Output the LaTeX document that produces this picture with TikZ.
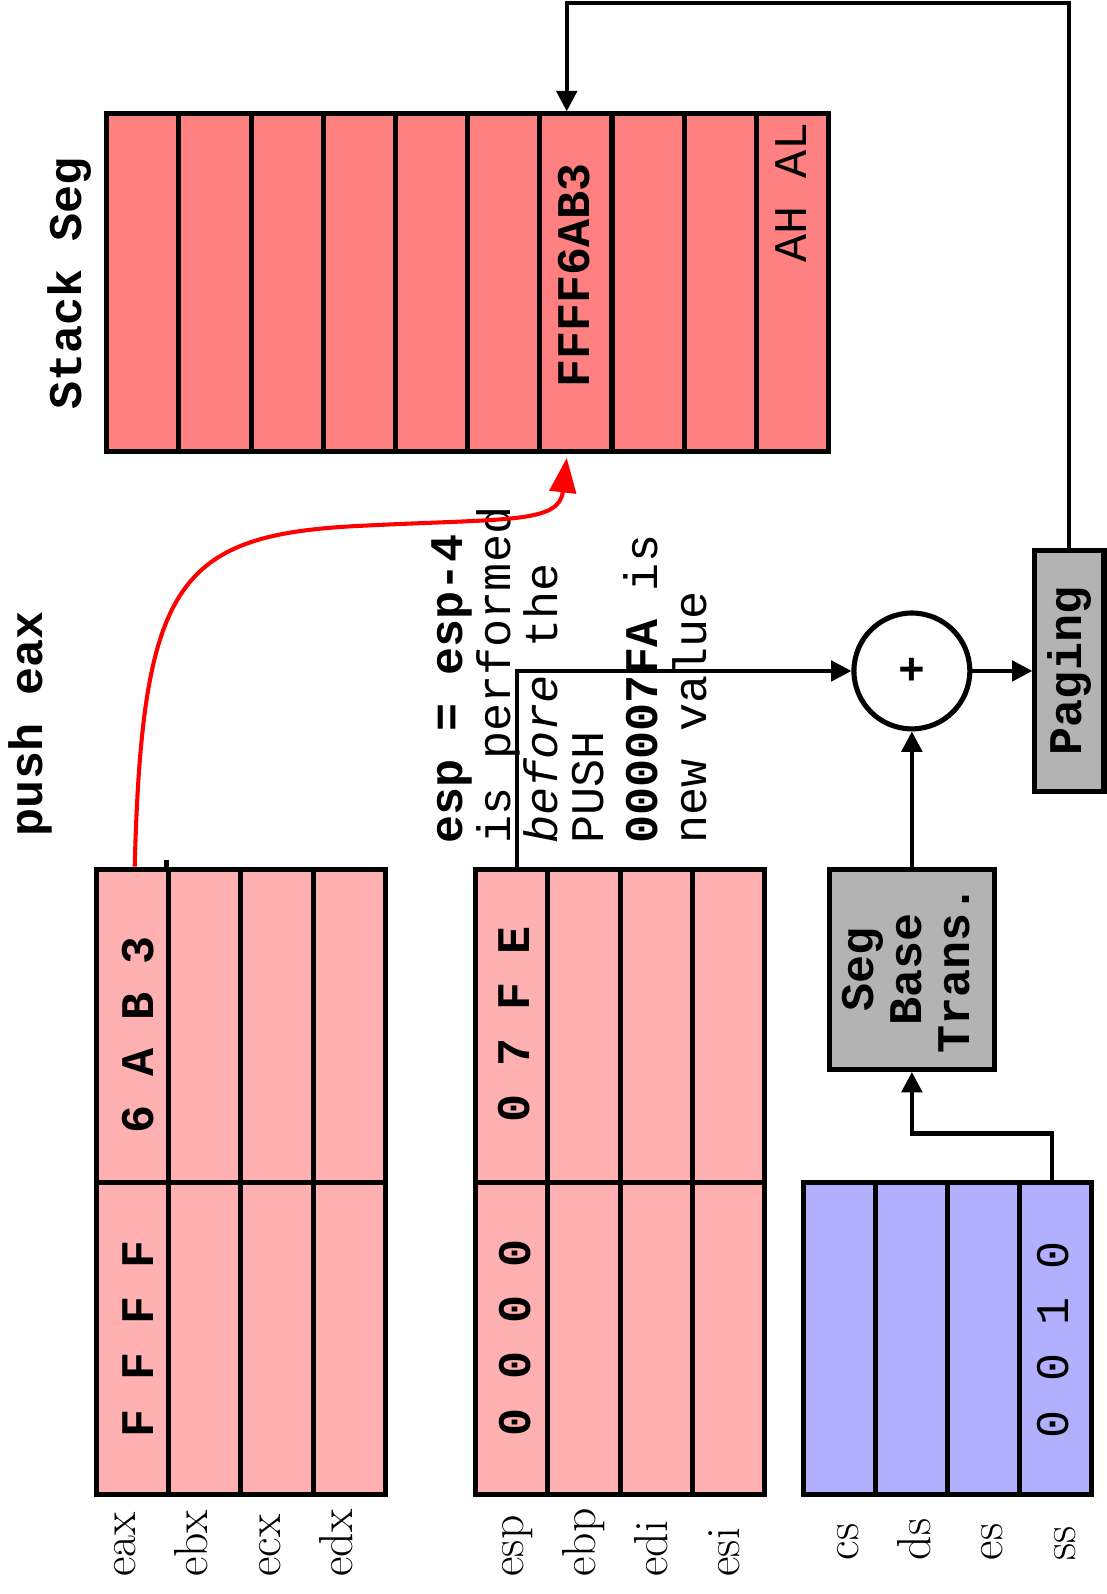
\documentclass[tikz,border=0pt]{standalone}
\usepackage{fontspec}
\usepackage{graphicx}
\setmonofont{Liberation Mono}
\usetikzlibrary{arrows.meta,calc}

\definecolor{regpink}{HTML}{FFB0B0}
\definecolor{stackred}{HTML}{FF8080}
\definecolor{segblue}{HTML}{B0B0FF}
\definecolor{unitgray}{HTML}{B3B3B3}

\begin{document}
\begin{tikzpicture}[x=1pt,y=-1pt,
  cell/.style={draw,line width=5pt,inner sep=0pt,minimum width=71pt},
  unit/.style={draw,line width=5pt,fill=unitgray,inner sep=0pt,
    font=\fontsize{46}{47}\selectfont\ttfamily\bfseries},
  conn/.style={line width=4pt,-{Triangle[length=20pt,width=20pt]}},
  rtt/.style={rotate=90,inner sep=0pt,font=\fontsize{46}{47}\selectfont\ttfamily},
  rttb/.style={rotate=90,inner sep=0pt,font=\fontsize{46}{47}\selectfont\ttfamily\bfseries},
  reglabel/.style={rotate=90,anchor=base west,inner sep=0pt,font=\fontsize{47}{47}\selectfont},
  noteline/.style={rotate=90,anchor=base west,inner sep=0pt,font=\fontsize{46}{47}\selectfont\ttfamily},
]
\useasboundingbox (0,0) rectangle (1088,1568);

% general purpose registers: upper and lower 16-bit halves
\foreach \i/\n in {0/eax,1/ebx,2/ecx,3/edx} {
  \node[cell,fill=regpink,minimum height=308pt] (hi\n) at ({130.5+71*\i},1009) {};
  \node[cell,fill=regpink,minimum height=307pt] (lo\n) at ({130.5+71*\i},1316.5) {};
  \node[reglabel] (lab\n) at ({133.5+71*\i},1551) {\n};
}
\foreach \i/\n in {0/esp,1/ebp,2/edi,3/esi} {
  \node[cell,fill=regpink,minimum height=308pt] (hi\n) at ({503.5+71*\i},1009) {};
  \node[cell,fill=regpink,minimum height=307pt] (lo\n) at ({503.5+71*\i},1316.5) {};
  \node[reglabel] (lab\n) at ({514.5+71*\i},1551) {\n};
}
\draw[line width=5pt] (hiebx.north west) -- ++(0,-7);

% segment registers
\foreach \i/\n in {0/cs,1/ds,2/es,3/ss} {
  \node[cell,fill=segblue,minimum height=307pt] (\n) at ({825.5+71*\i},1316.5) {};
  \node[reglabel] (lab\n) at ({844.5+71*\i},1535) {\n};
}

% stack segment
\foreach \i in {1,...,10} {
  \node[cell,fill=stackred,minimum height=332pt] (stk\i) at ({140.5+71*(\i-1)},278) {};
}

% register contents
\node[rttb] (eaxhigh) at (136,1018) {6 A B 3};
\node[rttb] (eaxlow) at (136,1317) {F F F F};
\node[rttb] (esphigh) at (506,1008) {0 7 F E};
\node[rttb] (esplow) at (507,1316) {0 0 0 0};
\node[rtt] (ssval) at (1036,1318) {0 0 1 0};
\node[rttb] (pushed) at (565,271) {FFFF6AB3};
\node[rtt] (ahal) at (778,189) {AH AL};

% titles
\node[rttb,anchor=base] (title) at (42,712) {push eax};
\node[rttb,anchor=base] (stacktitle) at (80,279) {Stack Seg};

% note on esp
\node[noteline] (n1) at (455,830) {\bfseries esp = esp-4};
\node[noteline] (n2) at (502,830) {is performed};
\node[noteline] (n3) at (548,830) {\itshape before\upshape{} the};
\node[noteline] (n4) at (594,830) {PUSH};
\node[noteline] (n5) at (647,830) {\bfseries 000007FA\mdseries{} is};
\node[noteline] (n6) at (695,830) {new value};

% address calculation units
\node[draw,circle,line width=5pt,fill=white,minimum size=114pt,inner sep=0pt,
  font=\fontsize{44}{44}\selectfont\ttfamily\bfseries] (plus) at (897,660) {+};
\node[unit,minimum width=68pt,minimum height=237pt] (paging) at (1052,660)
  {\rotatebox{90}{Paging}};
\node[unit,minimum width=162pt,minimum height=197pt] (segbase) at (897,953.5)
  {\rotatebox{90}{\begin{tabular}{@{}c@{}}Seg\\Base\\Trans.\end{tabular}}};

% connectors
\coordinate (stkin) at ([xshift=-9pt]stk7.north);
\coordinate (topcorner) at (stkin |- 0,3);
\coordinate (sscorner) at (segbase.south |- 0,1115);
\draw[conn] (paging.north) |- (topcorner) -- (stkin);
\draw[conn] ([xshift=5pt]hiesp.north) |- (plus.west);
\draw[conn] (segbase.north) -- (plus.south);
\draw[conn] (plus.east) -- (paging.west);
\draw[conn] ([xshift=-4pt]ss.north) |- (sscorner) -- (segbase.south);
\draw[red,line width=4pt,-{Triangle[length=34pt,width=26pt]}]
  ([xshift=2pt]hieax.north) .. controls (140,570) and (175,525) .. (360,517)
  .. controls (500,510) and (550,515) .. ([xshift=-9pt,yshift=-4pt]stk7.south);
\end{tikzpicture}
\end{document}
